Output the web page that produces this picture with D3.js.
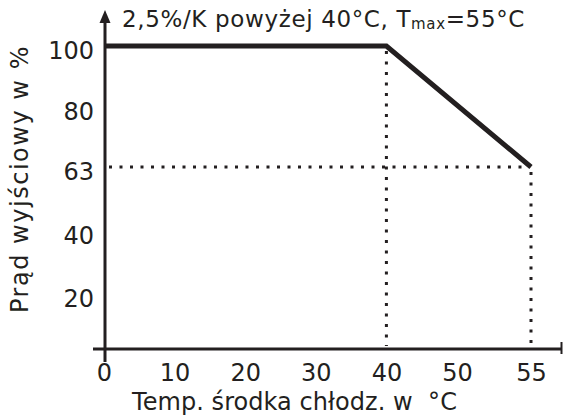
<!DOCTYPE html>
<html>
<head>
<meta charset="utf-8">
<script src="https://cdn.jsdelivr.net/npm/d3@7"></script>
<style>
  body { margin: 0; background: #fff; }
  svg { display: block; font-family: "DejaVu Sans", Verdana, sans-serif; }
</style>
</head>
<body>
<svg class="chart"></svg>
<script>
// Data
const tempTicks = [0, 10, 20, 30, 40, 50, 55];
const currentTicks = [20, 40, 63, 80, 100];
const curveTemp = [0, 40, 55];
const curveCurrent = [100, 100, 63];
const titleText = '2,5%/K powyżej 40°C, T';
const xTitle = 'Temp. środka chłodz. w  °C';
const yTitle = 'Prąd wyjściowy w %';

const width = 563;
const height = 416;
const ink = '#231f20';
const font = '"DejaVu Sans", Verdana, sans-serif';

const svg = d3.select('.chart').attr('width', width).attr('height', height);

// schematic axes: not evenly spaced in the original
const x = d3.scaleLinear().domain([0, 50, 55]).range([104, 457, 531]);
const y = d3.scaleLinear().domain([20, 40, 63, 80, 100]).range([294, 231, 167, 107, 46]);

const axisX = 105;
const axisY = 349;

// spread letters so a text fills a given width
function fitWidth(sel, target) {
  const node = sel.node();
  const natural = node.getComputedTextLength();
  const n = node.textContent.length;
  sel.style('letter-spacing', ((target - natural) / n) + 'px');
}

// axis lines
svg.append('line')
  .attr('x1', axisX).attr('x2', axisX)
  .attr('y1', 362).attr('y2', 22)
  .attr('stroke', ink).attr('stroke-width', 3);
svg.append('path')
  .attr('d', `M${axisX - 5.5},23 L${axisX},10 L${axisX + 5.5},23 Z`)
  .attr('fill', ink);

svg.append('line')
  .attr('x1', 93).attr('x2', 562)
  .attr('y1', axisY).attr('y2', axisY)
  .attr('stroke', ink).attr('stroke-width', 3);
svg.append('line')
  .attr('x1', 561.5).attr('x2', 561.5)
  .attr('y1', 342).attr('y2', 354)
  .attr('stroke', ink).attr('stroke-width', 2);

// dotted guides
const dotted = g => g.attr('stroke', ink).attr('stroke-width', 3).attr('stroke-dasharray', '3,7.5');
svg.append('line')
  .attr('x1', x(40)).attr('x2', x(40))
  .attr('y1', y(100) + 5).attr('y2', axisY - 3)
  .call(dotted);
svg.append('line')
  .attr('x1', x(55)).attr('x2', x(55))
  .attr('y1', y(63) + 5).attr('y2', axisY - 3)
  .call(dotted);
svg.append('line')
  .attr('x1', axisX + 4).attr('x2', x(55) - 8)
  .attr('y1', y(63)).attr('y2', y(63))
  .call(dotted);

// derating curve
const line = d3.line()
  .x(d => x(d[0]))
  .y(d => y(d[1]));
svg.append('path')
  .datum(curveTemp.map((t, i) => [t, curveCurrent[i]]))
  .attr('d', line)
  .attr('fill', 'none')
  .attr('stroke', ink)
  .attr('stroke-width', 5)
  .attr('stroke-linejoin', 'miter');

// tick labels
const gx = svg.append('g')
  .attr('transform', `translate(0,${axisY})`)
  .call(d3.axisBottom(x).tickValues(tempTicks).tickSize(0).tickPadding(15));
gx.select('.domain').remove();
gx.selectAll('text')
  .attr('fill', ink)
  .style('font-size', '24px')
  .style('font-family', font);

const gy = svg.append('g')
  .attr('transform', `translate(${axisX},5)`)
  .call(d3.axisLeft(y).tickValues(currentTicks).tickSize(0).tickPadding(11));
gy.select('.domain').remove();
gy.selectAll('text')
  .attr('fill', ink)
  .style('font-size', '24px')
  .style('font-family', font);

// titles
const title = svg.append('text')
  .attr('x', 122)
  .attr('y', 27)
  .attr('fill', ink)
  .style('font-size', '23px');
title.append('tspan').text(titleText);
title.append('tspan').text('max').style('font-size', '15px').attr('dy', 2);
title.append('tspan').text('=55°C').attr('dy', -2);
fitWidth(title, 403);

const xt = svg.append('text')
  .attr('x', 132)
  .attr('y', 410)
  .attr('fill', ink)
  .style('font-size', '24px')
  .style('white-space', 'pre')
  .text(xTitle);
fitWidth(xt, 325);

const yt = svg.append('text')
  .attr('transform', 'translate(28,313) rotate(-90)')
  .attr('fill', ink)
  .style('font-size', '24px')
  .text(yTitle);
fitWidth(yt, 268);
</script>
</body>
</html>
